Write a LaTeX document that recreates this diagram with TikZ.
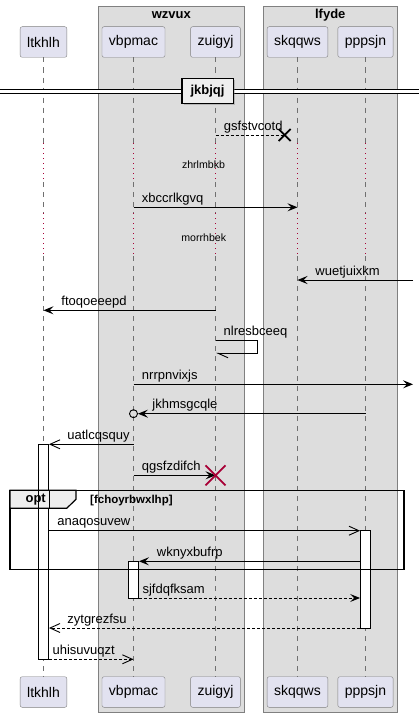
\documentclass[tikz,border=0pt]{standalone}
\usepackage{fontspec}
\setmainfont{Liberation Sans}
\usetikzlibrary{arrows.meta,shadows}

\definecolor{partfill}{HTML}{E2E2F0}
\definecolor{partline}{HTML}{808080}
\definecolor{grpfill}{HTML}{DDDDDD}
\definecolor{lifegray}{HTML}{707070}
\definecolor{delayred}{HTML}{A80036}
\definecolor{tabfill}{HTML}{EEEEEE}

\begin{document}
\begin{tikzpicture}[x=1pt,y=-1pt]
    % Define styles
    \tikzset{
        part/.style={rectangle, rounded corners=2pt, draw=partline, fill=partfill, minimum height=30.6pt, inner xsep=7pt, font=\fontsize{14}{16}\selectfont},
        grp/.style={draw=partline, fill=grpfill},
        grptitle/.style={anchor=base, inner sep=0pt, font=\bfseries\fontsize{13}{15}\selectfont},
        lifeline/.style={draw=lifegray, line width=0.8pt, dash pattern=on 5pt off 5pt},
        delay/.style={draw=delayred, line width=0.8pt, dash pattern=on 1pt off 4pt},
        delaytxt/.style={inner sep=0pt, font=\fontsize{10.6}{12}\selectfont},
        act/.style={rectangle, draw, line width=0.9pt, fill=white, minimum width=10pt, inner sep=0pt},
        msg/.style={line width=0.9pt, -{Stealth[length=10pt,width=8pt,inset=4pt]}},
        openmsg/.style={line width=0.9pt, -{Straight Barb[length=10pt,width=9pt]}},
        selfmsg/.style={line width=0.9pt, -{Straight Barb[length=10pt,width=9pt,harpoon]}},
        replymsg/.style={msg, dash pattern=on 3pt off 2pt},
        openreply/.style={openmsg, dash pattern=on 3pt off 2pt},
        lbl/.style={anchor=base west, inner sep=0pt, yshift=5pt, font=\fontsize{13}{15}\selectfont},
        kill/.style={line width=1.8pt},
        frame/.style={draw, line width=1.5pt},
        tab/.style={draw, line width=1.2pt, fill=tabfill}
    }
    \useasboundingbox (0,0) rectangle (419,717);

    % Boxes
    \draw[grp] (98.3,6) rectangle (244.3,712);
    \draw[grp] (263.3,6) rectangle (397.3,712);
    \node[grptitle] (wzvux) at (171.3,19) {wzvux};
    \node[grptitle] (lfyde) at (330.3,19) {lfyde};

    % Participants
    \node[part] (ltkhlh) at (43.5,42) {ltkhlh};
    \node[part] (vbpmac) at (133.5,42) {vbpmac};
    \node[part] (zuigyj) at (215.5,42) {zuigyj};
    \node[part] (skqqws) at (297.5,42) {skqqws};
    \node[part] (pppsjn) at (365.5,42) {pppsjn};
    \node[part] (ltkhlh_end) at (43.5,692) {ltkhlh};
    \node[part] (vbpmac_end) at (133.5,692) {vbpmac};
    \node[part] (zuigyj_end) at (215.5,692) {zuigyj};
    \node[part] (skqqws_end) at (297.5,692) {skqqws};
    \node[part] (pppsjn_end) at (365.5,692) {pppsjn};

    % Lifelines with delays
    \coordinate (d1) at (0,143);
    \coordinate (d2) at (0,182);
    \coordinate (d3) at (0,213);
    \coordinate (d4) at (0,256);
    \foreach \p in {ltkhlh,vbpmac,zuigyj,skqqws,pppsjn} {
        \draw[lifeline] (\p.south) -- (\p |- d1);
        \draw[delay] (\p |- d1) -- (\p |- d2);
        \draw[lifeline] (\p |- d2) -- (\p |- d3);
        \draw[delay] (\p |- d3) -- (\p |- d4);
        \draw[lifeline] (\p |- d4) -- (\p_end.north);
    }

    % Divider
    \draw[line width=1pt, double, double distance=2.7pt] (0,91.65) -- (419,91.65);
    \node[draw, line width=1.6pt, fill=tabfill, minimum width=51.6pt, minimum height=25pt, inner sep=0pt,
          drop shadow={shadow xshift=2pt, shadow yshift=-2pt, opacity=0.4},
          font=\bfseries\fontsize{13}{15}\selectfont] (jkbjqj) at (207.5,90.8) {jkbjqj};

    % Rows
    \coordinate (r1) at (0,135);
    \coordinate (r2) at (0,207.3);
    \coordinate (r3) at (0,280);
    \coordinate (r4) at (0,310.3);
    \coordinate (r5) at (0,340);
    \coordinate (r6) at (0,384.3);
    \coordinate (r7) at (0,413.7);
    \coordinate (r8) at (0,444.3);
    \coordinate (r9) at (0,475.3);
    \coordinate (r10) at (0,530.7);
    \coordinate (r11) at (0,561.3);
    \coordinate (r12) at (0,598);
    \coordinate (r13) at (0,628);
    \coordinate (r14) at (0,659.3);
    \coordinate (edgeR) at (413,0);
    \coordinate (lost) at (284.7,135);

    % Activations
    \node[act, minimum height=215pt] (actA) at (43.5,551.8) {};
    \node[act, minimum height=36.7pt] (actB) at (133.5,579.65) {};
    \node[act, minimum height=97.3pt] (actC) at (365.5,579.35) {};

    % Opt frame
    \draw[frame] (10,490.3) rectangle (404,569.3);
    \draw[tab] (10,490.3) -- (76,490.3) -- (76,499.3) -- (66.7,508.3) -- (10,508.3) -- cycle;
    \draw[line width=0.9pt] (actA.west |- 0,490.3) -- (actA.west |- 0,508.3)
        (actA.east |- 0,490.3) -- (actA.east |- 0,508.3);
    \node[inner sep=0pt, font=\bfseries\fontsize{13}{15}\selectfont] (opt) at (35.7,500) {opt};
    \node[anchor=west, inner sep=0pt, font=\bfseries\fontsize{11.5}{13}\selectfont] (guard) at (90,500.5) {[fchoyrbwxlhp]};

    % Arrows
    \draw[replymsg, -] (zuigyj |- r1) -- (lost) node[lbl, at start, xshift=8pt] {gsfstvcotd};
    \draw[kill] (lost) +(-6,-6) -- +(6,6) (lost) +(-6,6) -- +(6,-6);
    \node[delaytxt] (zhrlmbkb) at (203.5,165) {zhrlmbkb};
    \draw[msg] (vbpmac |- r2) -- (skqqws |- r2) node[lbl, at start, xshift=8pt] {xbccrlkgvq};
    \node[delaytxt] (morrhbek) at (203.8,237.3) {morrhbek};
    \draw[msg] (edgeR |- r3) -- (skqqws |- r3) node[lbl, at end, xshift=17.5pt] {wuetjuixkm};
    \draw[msg] (zuigyj |- r4) -- (ltkhlh |- r4) node[lbl, at end, xshift=17.5pt] {ftoqoeeepd};
    \draw[selfmsg] (zuigyj |- r5) node[lbl, xshift=7.7pt] {nlresbceeq} -- ++(42,0) -- ++(0,13.3) -- ++(-41.5,0);
    \draw[msg] (vbpmac |- r6) -- (edgeR |- r6) node[lbl, at start, xshift=8pt] {nrrpnvixjs};
    \node[circle, draw, line width=0.9pt, minimum size=8pt, inner sep=0pt] (ring) at (vbpmac |- r7) {};
    \draw[msg] (pppsjn |- r7) -- (ring.east) node[lbl, at end, xshift=14pt] {jkhmsgcqle};
    \draw[openmsg] (vbpmac |- r8) -- (actA.east |- r8) node[lbl, at end, xshift=18pt] {uatlcqsquy};
    \draw[msg] (vbpmac |- r9) -- (zuigyj |- r9) node[lbl, at start, xshift=8pt] {qgsfzdifch};
    \draw[kill, draw=delayred] (zuigyj |- r9) +(-10,-10) -- +(10,10) (zuigyj |- r9) +(-10,10) -- +(10,-10);
    \draw[openmsg] (actA.east |- r10) -- (actC.west |- r10) node[lbl, at start, xshift=8pt] {anaqosuvew};
    \draw[msg] (actC.west |- r11) -- (actB.east |- r11) node[lbl, at end, xshift=17.5pt] {wknyxbufrp};
    \draw[replymsg] (actB.east |- r12) -- (actC.west |- r12) node[lbl, at start, xshift=3.2pt] {sjfdqfksam};
    \draw[openreply] (actC.west |- r13) -- (actA.east |- r13) node[lbl, at end, xshift=18pt] {zytgrezfsu};
    \draw[openreply] (actA.east |- r14) -- (vbpmac |- r14) node[lbl, at start, xshift=3.2pt] {uhisuvuqzt};
\end{tikzpicture}
\end{document}
